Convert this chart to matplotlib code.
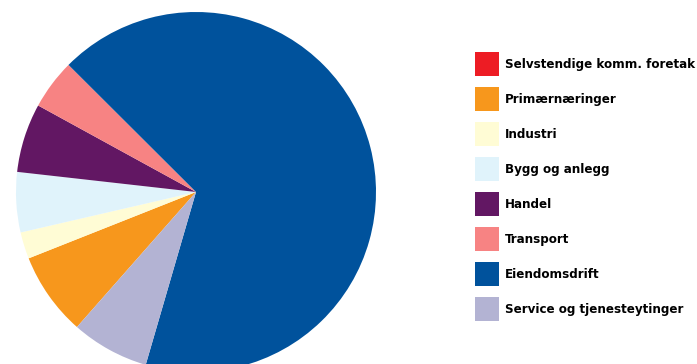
import matplotlib
matplotlib.use("Agg")
from matplotlib import pyplot as plt

categories = ["Selvstendige komm. foretak", "Primærnæringer", "Industri",
              "Bygg og anlegg", "Handel", "Transport", "Eiendomsdrift",
              "Service og tjenesteytinger"]
shares = [0.0, 7.5, 2.4, 5.4, 6.2, 4.5, 67.1, 7.0]
colors = ["#ED1C24", "#F7971C", "#FFFCD5", "#E0F3FB", "#621763",
          "#F78383", "#00529C", "#B3B3D3"]

plt.rcParams['font.family'] = ['DejaVu Sans']

W, H, dpi = 697, 364, 100
fig = plt.figure(figsize=(W / dpi, H / dpi), dpi=dpi)
ax = fig.add_axes([0, 0, 1, 1])

# pie centre and radius in pixels
cx, cy, r = 196, 192, 180
wedges, _ = ax.pie(shares, colors=colors, startangle=228.6, counterclock=False,
                   radius=1, wedgeprops=dict(linewidth=0))
ax.set_xlim(-cx / r, (W - cx) / r)
ax.set_ylim(-(H - cy) / r, cy / r)
ax.set_aspect('auto')
ax.axis('off')

leg = ax.legend(wedges, categories, loc='upper left',
                bbox_to_anchor=(475 / W, 1 - 52 / H),
                frameon=False,
                prop=dict(size=9.5, weight='bold', stretch='condensed'),
                handlelength=1.85, handleheight=2.38, handletextpad=0.45,
                labelspacing=0.86, borderaxespad=0, borderpad=0)

fig.savefig("out.png", dpi=dpi)
